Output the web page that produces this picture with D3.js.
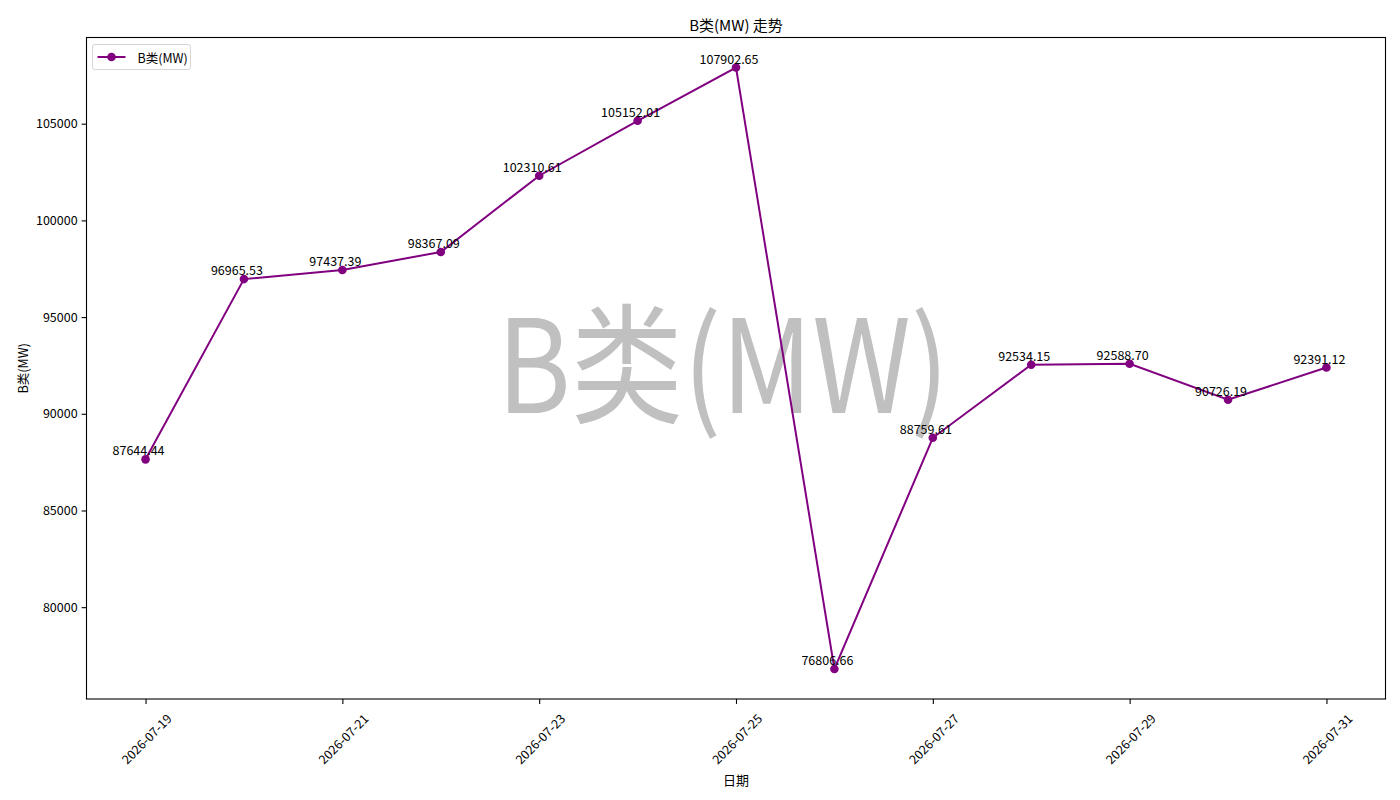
<!DOCTYPE html>
<html>
<head>
<meta charset="utf-8">
<script src="https://cdn.jsdelivr.net/npm/d3@7"></script>
<style>
  body { margin: 0; background: #fff; }
  text { font-family: "Noto Sans CJK SC", "DejaVu Sans", sans-serif; }
</style>
</head>
<body>
<svg id="chart"></svg>
<script>
// data
const dates = ['2026-07-19', '2026-07-20', '2026-07-21', '2026-07-22', '2026-07-23', '2026-07-24', '2026-07-25',
    '2026-07-26', '2026-07-27', '2026-07-28', '2026-07-29', '2026-07-30', '2026-07-31'];
const values = [87644.44, 96965.53, 97437.39, 98367.09, 102310.61, 105152.01, 107902.65,
    76806.66, 88759.61, 92534.15, 92588.70, 90726.19, 92391.12];
const xTickLabels = ['2026-07-19', '2026-07-21', '2026-07-23', '2026-07-25', '2026-07-27', '2026-07-29', '2026-07-31'];
const yTicks = [80000, 85000, 90000, 95000, 100000, 105000];
const seriesName = 'B类(MW)';

const width = 1400;
const height = 800;
const margin = { top: 37.5, right: 14.5, bottom: 101, left: 86.5 };
const innerW = width - margin.left - margin.right;
const innerH = height - margin.top - margin.bottom;
const color = '#800080';

const parse = d3.timeParse('%Y-%m-%d');
const data = dates.map((d, i) => ({ date: parse(d), value: values[i] }));

const svg = d3.select('#chart').attr('width', width).attr('height', height);
const g = svg.append('g').attr('transform', `translate(${margin.left},${margin.top})`);

// matplotlib style 5% margins
const day = 24 * 3600 * 1000;
const [x0, x1] = d3.extent(data, d => d.date);
const xPad = (x1 - x0) * 0.05;
const xScale = d3.scaleTime().domain([new Date(+x0 - xPad), new Date(+x1 + xPad)]).range([0, innerW]);
const [y0, y1] = d3.extent(values);
const yPad = (y1 - y0) * 0.05;
const yScale = d3.scaleLinear().domain([y0 - yPad, y1 + yPad]).range([innerH, 0]);

// watermark behind everything
g.append('text')
    .attr('x', innerW / 2 - 13)
    .attr('y', 375)
    .attr('text-anchor', 'middle')
    .attr('font-size', 130)
    .attr('textLength', 452)
    .attr('lengthAdjust', 'spacingAndGlyphs')
    .attr('fill', '#c0c0c0')
    .text(seriesName);

// y axis
const yAxis = g.append('g')
    .call(d3.axisLeft(yScale).tickValues(yTicks).tickFormat(d3.format('d')).tickSize(4.9).tickPadding(4));
yAxis.select('.domain').remove();
yAxis.selectAll('line').attr('stroke', '#000').attr('stroke-width', 1.1);
yAxis.selectAll('text').attr('font-size', 12.5).attr('fill', '#000');

// x axis
const xAxis = g.append('g')
    .attr('transform', `translate(0,${innerH})`)
    .call(d3.axisBottom(xScale).tickValues(xTickLabels.map(parse)).tickFormat(d3.timeFormat('%Y-%m-%d')).tickSize(4.9));
xAxis.select('.domain').remove();
xAxis.selectAll('line').attr('stroke', '#000').attr('stroke-width', 1.1);
xAxis.selectAll('text')
    .attr('font-size', 12.5)
    .attr('fill', '#000')
    .attr('y', 0)
    .attr('dy', null)
    .attr('text-anchor', 'middle')
    .attr('dominant-baseline', 'central')
    .attr('transform', 'translate(0,39.5) rotate(-45)');

// frame
g.append('rect')
    .attr('width', innerW)
    .attr('height', innerH)
    .attr('fill', 'none')
    .attr('stroke', '#000')
    .attr('stroke-width', 1.1);

// line + markers
const line = d3.line().x(d => xScale(d.date)).y(d => yScale(d.value));
g.append('path')
    .datum(data)
    .attr('d', line)
    .attr('fill', 'none')
    .attr('stroke', color)
    .attr('stroke-width', 2);

g.selectAll('circle.pt')
    .data(data)
    .enter()
    .append('circle')
    .attr('class', 'pt')
    .attr('cx', d => xScale(d.date))
    .attr('cy', d => yScale(d.value))
    .attr('r', 4.3)
    .attr('fill', color);

// value labels
g.selectAll('text.lbl')
    .data(data)
    .enter()
    .append('text')
    .attr('class', 'lbl')
    .attr('x', d => xScale(d.date) - 7)
    .attr('y', d => yScale(d.value) - 4)
    .attr('text-anchor', 'middle')
    .attr('font-size', 12.5)
    .attr('fill', '#000')
    .text(d => d.value.toFixed(2));

// legend
const legend = g.append('g').attr('transform', 'translate(6,7)');
legend.append('rect')
    .attr('width', 98)
    .attr('height', 25)
    .attr('rx', 2.5)
    .attr('fill', '#fff')
    .attr('fill-opacity', 0.8)
    .attr('stroke', '#d6d6d6');
legend.append('line')
    .attr('x1', 5).attr('x2', 33)
    .attr('y1', 12.5).attr('y2', 12.5)
    .attr('stroke', color)
    .attr('stroke-width', 2);
legend.append('circle').attr('cx', 19).attr('cy', 12.5).attr('r', 4.3).attr('fill', color);
legend.append('text')
    .attr('x', 45)
    .attr('y', 12.5)
    .attr('dominant-baseline', 'central')
    .attr('font-size', 12.5)
    .text(seriesName);

// title and axis labels
svg.append('text')
    .attr('x', margin.left + innerW / 2)
    .attr('y', 24.5)
    .attr('text-anchor', 'middle')
    .attr('dominant-baseline', 'central')
    .attr('font-size', 15)
    .text(seriesName + ' 走势');

svg.append('text')
    .attr('x', margin.left + innerW / 2)
    .attr('y', 779)
    .attr('text-anchor', 'middle')
    .attr('dominant-baseline', 'central')
    .attr('font-size', 13)
    .text('日期');

svg.append('text')
    .attr('transform', `translate(22,${margin.top + innerH / 2}) rotate(-90)`)
    .attr('text-anchor', 'middle')
    .attr('dominant-baseline', 'central')
    .attr('font-size', 12.5)
    .text(seriesName);
</script>
</body>
</html>
